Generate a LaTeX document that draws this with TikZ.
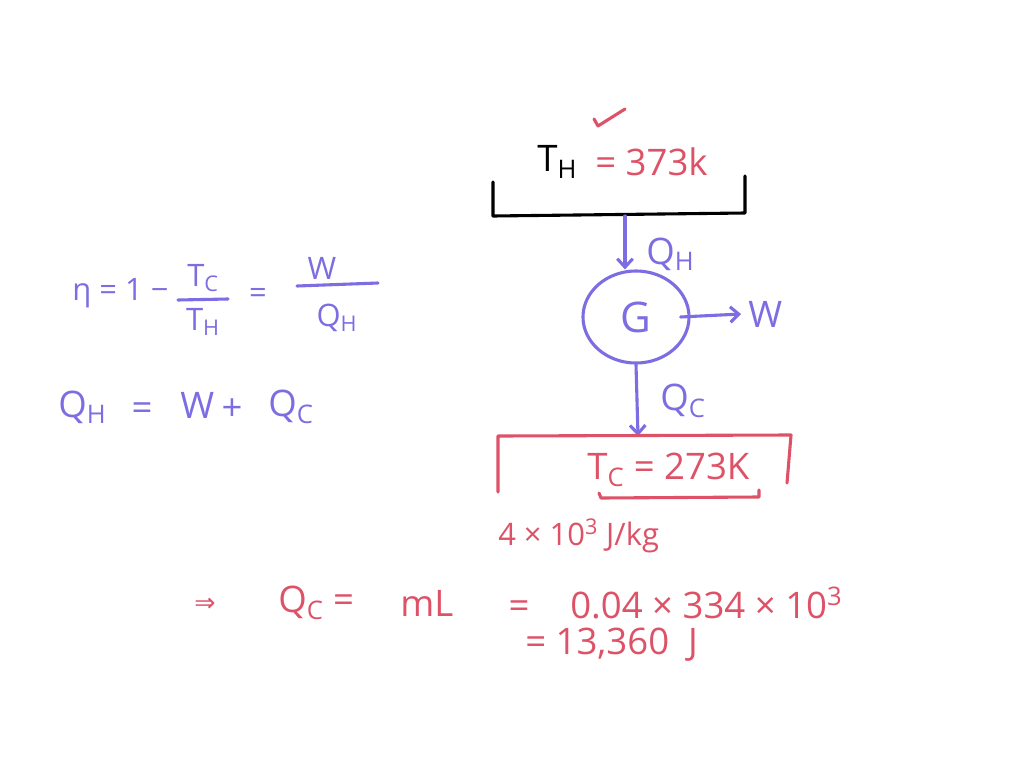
\documentclass[tikz,border=0pt]{standalone}
\usepackage{fontspec}
\setmainfont{Open Sans}
\newfontfamily\symfont{DejaVu Sans}
\usetikzlibrary{arrows.meta,shapes.geometric}
\definecolor{penblue}{RGB}{124,110,226}
\definecolor{penred}{RGB}{222,82,104}
\tikzset{
  hand/.style={line width=2.2pt, line cap=round, line join=round},
  flow/.style={hand, penblue, -{Straight Barb[length=6pt,width=11pt]}},
  big/.style={inner sep=0pt, anchor=west, font=\fontsize{26}{30}\selectfont},
  mid/.style={inner sep=0pt, anchor=west, font=\fontsize{22}{26}\selectfont},
}
\begin{document}
\begin{tikzpicture}[x=0.025cm, y=-0.025cm]
\useasboundingbox[fill=white] (0,0) rectangle (1024,768);
% hot reservoir
\draw[hand] (493,182) -- (493,216) -- (745,213) -- (745,176);
\coordinate (hot) at (625,216);
\node[big] (thlab) at (537,162) {T\textsubscript{H}};
\node[big, penred] (thval) at (595,162) {= 373k};
\draw[hand, penred] (594,119) -- (598,126) -- (625,109);
% engine
\node[ellipse, draw=penblue, hand, minimum width=2.65cm, minimum height=2.3cm, inner sep=0pt,
  text=penblue, font=\fontsize{30}{34}\selectfont] (eng) at (636,317) {G};
\draw[flow] (hot) -- (hot |- eng.north);
\coordinate (cold) at (638,436);
\draw[flow] (eng.south) -- (cold);
\coordinate (wout) at (741,314);
\draw[flow] ([xshift=-0.25cm]eng.east) -- (wout);
\node[big, penblue] (qh) at (646,254) {Q\textsubscript{H}};
\node[big, penblue] (w) at (748,314) {W};
\node[big, penblue] (qc) at (660,401) {Q\textsubscript{C}};
% cold reservoir
\draw[hand, penred] (498,492) -- (498,436) -- (791,435) -- (787,483);
\node[big, penred] (tc) at (587,470) {T\textsubscript{C} = 273K};
\draw[hand, penred] (599,493) -- (601,498) -- (759,497) -- (759,490);
\node[mid, penred] (lat) at (498,536) {4 × 10\textsuperscript{3} J/kg};
% efficiency
\node[mid, penblue] (eta) at (72,293) {η = 1 −};
\node[mid, penblue, anchor=center] (tcf) at (203,278) {T\textsubscript{C}};
\node[mid, penblue, anchor=center] (thf) at (203,322) {T\textsubscript{H}};
\draw[hand, penblue] (178,300) -- (228,299);
\node[mid, penblue, anchor=center] (eq) at (258,296) {=};
\node[mid, penblue, anchor=center] (wf) at (322,268) {W};
\node[mid, penblue, anchor=center] (qhf) at (337,318) {Q\textsubscript{H}};
\draw[hand, penblue] (297,286) -- (378,283);
% energy balance
\node[big, penblue] (qhl) at (58,407) {Q\textsubscript{H}};
\node[big, penblue, anchor=center] (eqb) at (142,412) {=};
\node[big, penblue] (wb) at (180,405) {W};
\node[big, penblue, anchor=center] (plus) at (232,410) {+};
\node[big, penblue] (qcb) at (268,407) {Q\textsubscript{C}};
% latent heat
\node[mid, penred, anchor=center, font=\symfont\fontsize{18}{22}\selectfont] (imp) at (205,605) {⇒};
\node[big, penred] (qcl) at (278,603) {Q\textsubscript{C} =};
\node[big, penred] (ml) at (400,603) {mL};
\node[big, penred, anchor=center] (eqc) at (519,610) {=};
\node[big, penred] (calc) at (570,603) {0.04 × 334 × 10\textsuperscript{3}};
\node[big, penred] (res) at (525,645) {= 13,360 \ J};
\end{tikzpicture}
\end{document}
